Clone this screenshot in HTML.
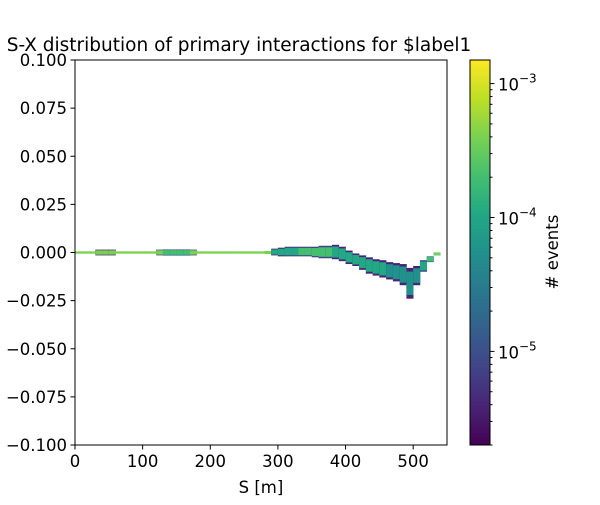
<!DOCTYPE html>
<html><head><meta charset="utf-8"><style>
body{margin:0;background:#fff;}
text{font-family:"DejaVu Sans","Liberation Sans",sans-serif;fill:#000;}
</style></head><body>
<svg id="chart" width="600" height="500" viewBox="0 0 600 500">
<defs>
<linearGradient id="viridis" x1="0" y1="1" x2="0" y2="0">
<stop offset="0" stop-color="#440154"/><stop offset="0.1" stop-color="#482475"/><stop offset="0.2" stop-color="#414487"/><stop offset="0.3" stop-color="#355f8d"/><stop offset="0.4" stop-color="#2a788e"/><stop offset="0.5" stop-color="#21918c"/><stop offset="0.6" stop-color="#22a884"/><stop offset="0.7" stop-color="#44bf70"/><stop offset="0.8" stop-color="#7ad151"/><stop offset="0.9" stop-color="#bddf26"/><stop offset="1" stop-color="#fde725"/>
</linearGradient>
</defs>
<text x="239" y="51" font-size="18.5" text-anchor="middle">S-X distribution of primary interactions for $label1</text>
<g id="heat"></g>
<rect x="75" y="60" width="372" height="385" fill="none" stroke="#000" stroke-width="1"/>
<g id="xaxis"></g>
<g id="yaxis"></g>
<text x="261" y="493" font-size="16.5" text-anchor="middle">S [m]</text>
<rect x="470" y="60" width="20" height="385" fill="url(#viridis)" stroke="#000" stroke-width="1"/>
<g id="cbar"></g>
<text transform="translate(558,252) rotate(-90)" font-size="16.5" text-anchor="middle"># events</text>
</svg>
<script>
const sCols=[0,10,20,30,40,50,60,70,80,90,100,110,120,130,140,150,160,170,180,190,200,210,220,230,240,250,260,270,280,290,300,310,320,330,340,350,360,370,380,390,400,410,420,430,440,450,460,470,480,490,500,510,520,530];
const upperEdge=[0.0006,0.0006,0.0006,0.0015,0.0015,0.0015,0.0006,0.0006,0.0006,0.0006,0.0006,0.0006,0.0015,0.0016,0.0016,0.0016,0.0016,0.0015,0.0006,0.0006,0.0006,0.0006,0.0006,0.0006,0.0006,0.0006,0.0006,0.0006,0.0008,0.002,0.0025,0.003,0.003,0.003,0.003,0.003,0.0035,0.0035,0.004,0.003,0.001,-0.0005,-0.0015,-0.0025,-0.0035,-0.004,-0.005,-0.0055,-0.006,-0.008,-0.007,-0.004,-0.002,0];
const lowerEdge=[-0.0006,-0.0006,-0.0006,-0.0015,-0.0015,-0.0015,-0.0006,-0.0006,-0.0006,-0.0006,-0.0006,-0.0006,-0.0015,-0.0016,-0.0016,-0.0016,-0.0016,-0.0015,-0.0006,-0.0006,-0.0006,-0.0006,-0.0006,-0.0006,-0.0006,-0.0006,-0.0006,-0.0006,-0.0008,-0.0015,-0.002,-0.002,-0.002,-0.002,-0.002,-0.0025,-0.003,-0.003,-0.0035,-0.0045,-0.006,-0.007,-0.009,-0.011,-0.012,-0.013,-0.014,-0.015,-0.017,-0.024,-0.017,-0.01,-0.005,-0.0015];
const coreDensity=[3e-4,3e-4,3e-4,3e-4,3e-4,3e-4,3e-4,3e-4,3e-4,3e-4,3e-4,3e-4,3e-4,2e-4,2e-4,2e-4,2e-4,3e-4,3e-4,3e-4,3e-4,3e-4,3e-4,3e-4,3e-4,3e-4,3e-4,3e-4,3e-4,1e-4,1.2e-4,1.2e-4,1.3e-4,1.5e-4,1.5e-4,1.5e-4,1.5e-4,1.5e-4,1.2e-4,1e-4,1e-4,1e-4,1e-4,9e-5,8e-5,8e-5,7e-5,7e-5,6e-5,5e-5,7e-5,1.2e-4,2e-4,3e-4];
const edgeDensity=[3e-4,3e-4,3e-4,5e-6,5e-6,5e-6,3e-4,3e-4,3e-4,3e-4,3e-4,3e-4,1e-5,2e-5,2e-5,2e-5,2e-5,1e-5,3e-4,3e-4,3e-4,3e-4,3e-4,3e-4,3e-4,3e-4,3e-4,3e-4,3e-4,5e-6,5e-6,6e-6,6e-6,6e-6,6e-6,6e-6,6e-6,6e-6,5e-6,5e-6,5e-6,5e-6,5e-6,5e-6,5e-6,5e-6,5e-6,5e-6,5e-6,5e-6,5e-6,8e-6,2e-5,8e-5];
const xTicks=[0,100,200,300,400,500];
const yTicks=[-0.1,-0.075,-0.05,-0.025,0,0.025,0.05,0.075,0.1];
const yTickLabels=["\u22120.100","\u22120.075","\u22120.050","\u22120.025","0.000","0.025","0.050","0.075","0.100"];
const cMajor=[1e-5,1e-4,1e-3];
const cMajorExp=["\u22125","\u22124","\u22123"];

const NS="http://www.w3.org/2000/svg";
const X=s=>75+s/550*372;
const Y=v=>252.5-v/0.1*192.5;
const cMin=2e-6,cMax=1.5e-3;
const C=v=>445-(Math.log10(v)-Math.log10(cMin))/(Math.log10(cMax)-Math.log10(cMin))*385;
const vir=["#440154","#482475","#414487","#355f8d","#2a788e","#21918c","#22a884","#44bf70","#7ad151","#bddf26","#fde725"];
function color(v){let t=(Math.log10(v)-Math.log10(cMin))/(Math.log10(cMax)-Math.log10(cMin));t=Math.max(0,Math.min(1,t));return vir[Math.round(t*10)];}
function mk(tag,attrs,parent){const e=document.createElementNS(NS,tag);for(const k in attrs)e.setAttribute(k,attrs[k]);parent.appendChild(e);return e;}

const heat=document.getElementById('heat');
for(let i=0;i<sCols.length;i++){
  const x0=X(sCols[i]),w=X(sCols[i]+10)-x0;
  const yt=Y(upperEdge[i]),yb=Y(lowerEdge[i]);
  const r=mk('rect',{x:x0,y:yt,width:w+0.3,height:Math.max(1,yb-yt),fill:color(edgeDensity[i])},heat);
  
  
  const mid=(upperEdge[i]+lowerEdge[i])/2,h=(upperEdge[i]-lowerEdge[i])*0.38;
  const y1=Y(mid+h),y2=Y(mid-h);
  const c=mk('rect',{x:x0,y:y1,width:w+0.3,height:Math.max(1.2,y2-y1),fill:color(coreDensity[i])},heat);
  
  
}
const xa=document.getElementById('xaxis');
xTicks.forEach(t=>{
  mk('line',{x1:X(t),x2:X(t),y1:445,y2:449.5,stroke:'#000'},xa);
  const tx=mk('text',{x:X(t),y:467,'font-size':16.5,'text-anchor':'middle'},xa);tx.textContent=t;
  
  
});
const ya=document.getElementById('yaxis');
yTicks.forEach((t,i)=>{
  mk('line',{x1:70.5,x2:75,y1:Y(t),y2:Y(t),stroke:'#000'},ya);
  const tx=mk('text',{x:67,y:Y(t)+6,'font-size':16.5,'text-anchor':'end'},ya);tx.textContent=yTickLabels[i];
  
  
});
const cb=document.getElementById('cbar');
for(let e=-6;e<=-3;e++)for(let m=1;m<10;m++){
  const v=m*Math.pow(10,e);if(v<cMin||v>cMax)continue;
  const y=C(v);mk('line',{x1:490,x2:m===1?494.5:492.5,y1:y,y2:y,stroke:'#000'},cb);
}
cMajor.forEach((v,i)=>{
  const tx=mk('text',{x:498,y:C(v)+7,'font-size':16.5},cb);
  tx.textContent='10';
  const sp=document.createElementNS(NS,'tspan');sp.setAttribute('dy','-8');sp.setAttribute('font-size','12');sp.textContent=cMajorExp[i];tx.appendChild(sp);
  
  
});
</script>
</body></html>
